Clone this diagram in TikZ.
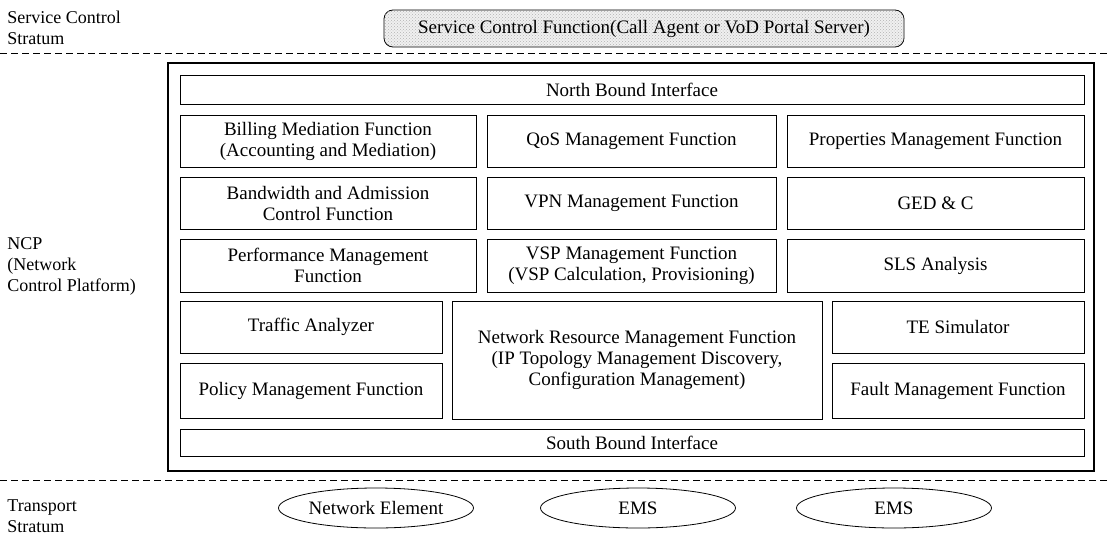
\documentclass[tikz,border=0pt]{standalone}
\usepackage{fontspec}
\setmainfont{Liberation Serif}
\usetikzlibrary{shapes.geometric, patterns}

\begin{document}
\begin{tikzpicture}[x=1pt, y=-1pt, line width=0.8pt,
    every node/.style={font=\fontsize{19}{21}\selectfont},
    fbox/.style={draw, align=center, inner sep=0pt},
    layer/.style={font=\fontsize{18}{21}\selectfont, align=left, anchor=west, inner sep=0pt},
    split/.style={dash pattern=on 7pt off 4pt, line width=1pt},
    elem/.style={draw, ellipse, minimum width=195pt, minimum height=40pt, inner sep=0pt}]
    \useasboundingbox (0,0) rectangle (1107,535);
    % strata borders
    \coordinate (t1) at (0,54); \coordinate (t2) at (1107,54);
    \coordinate (b1) at (0,480); \coordinate (b2) at (1107,480);
    \draw[split] (t1) -- (t2);
    \draw[split] (b1) -- (b2);
    \node[layer] (scs) at (7,28) {Service Control\\Stratum};
    \node[layer] (ncp) at (7,266) {NCP\\(Network\\Control Platform)};
    \node[layer] (ts) at (7,516) {Transport\\Stratum};
    % service control function
    \node[draw, rounded corners=9pt, fill=black!6, minimum width=520pt, minimum height=37pt, inner sep=0pt,
        postaction={pattern=crosshatch dots, pattern color=black!30}] (scf) at (644,28.5)
        {Service Control Function(Call Agent or VoD Portal Server)};
    % NCP
    \node[draw, line width=1.1pt, minimum width=926pt, minimum height=408pt] (frame) at (631,267) {};
    \node[fbox, minimum width=904pt, minimum height=29pt] (nbi) at (632,89.5) {North Bound Interface};
    \node[fbox, minimum width=296pt, minimum height=52pt] (bill) at (328,141) {Billing Mediation Function\\(Accounting and Mediation)};
    \node[fbox, minimum width=289pt, minimum height=52pt] (qos) at (631.5,141) {QoS Management Function};
    \node[fbox, minimum width=297pt, minimum height=52pt] (prop) at (935.5,141) {Properties Management Function};
    \node[fbox, minimum width=296pt, minimum height=52pt] (bac) at (328,203) {Bandwidth and Admission\\Control Function};
    \node[fbox, minimum width=289pt, minimum height=52pt] (vpn) at (631.5,203) {VPN Management Function};
    \node[fbox, minimum width=297pt, minimum height=52pt] (ged) at (935.5,203) {GED \& C};
    \node[fbox, minimum width=296pt, minimum height=53pt] (perf) at (328,265.5) {Performance Management\\Function};
    \node[fbox, minimum width=289pt, minimum height=53pt] (vsp) at (631.5,265.5) {VSP Management Function\\(VSP Calculation, Provisioning)};
    \node[fbox, minimum width=297pt, minimum height=53pt] (sls) at (935.5,265.5) {SLS Analysis};
    \node[fbox, minimum width=262pt, minimum height=52pt] (ta) at (311,327) {Traffic Analyzer};
    \node[fbox, minimum width=262pt, minimum height=55pt] (pol) at (311,391) {Policy Management Function};
    \node[fbox, minimum width=370pt, minimum height=118pt] (nrm) at (637,360) {Network Resource Management Function\\(IP Topology Management Discovery,\\Configuration Management)};
    \node[fbox, minimum width=252pt, minimum height=52pt] (te) at (958,327) {TE Simulator};
    \node[fbox, minimum width=252pt, minimum height=55pt] (fault) at (958,391) {Fault Management Function};
    \node[fbox, minimum width=904pt, minimum height=27pt] (sbi) at (632,443) {South Bound Interface};
    % transport
    \node[elem] (ne) at (376,508) {Network Element};
    \node[elem] (ems1) at (638,508) {EMS};
    \node[elem] (ems2) at (894,508) {EMS};
\end{tikzpicture}
\end{document}
